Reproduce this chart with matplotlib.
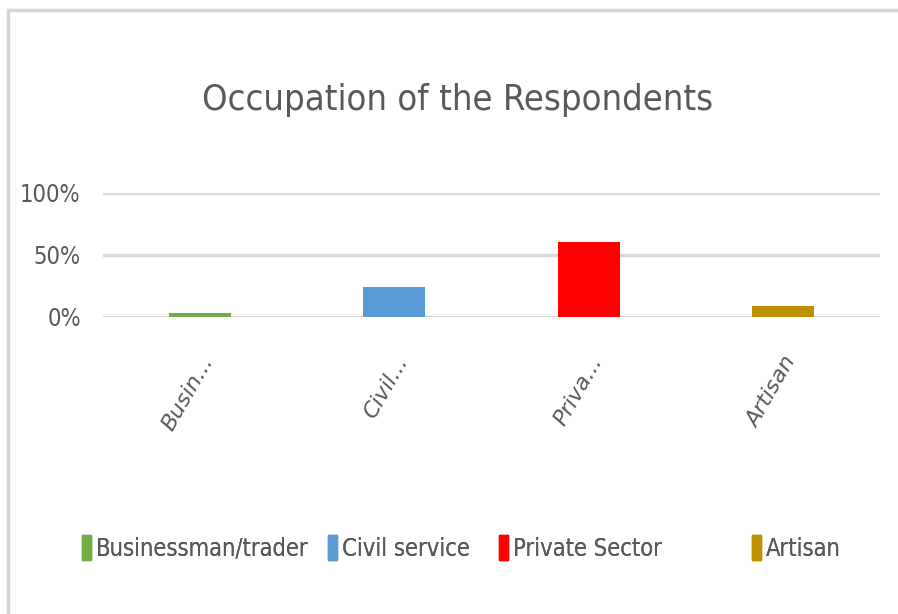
import matplotlib
matplotlib.use('Agg')
import matplotlib.pyplot as plt
from matplotlib.patches import Rectangle, Patch
from matplotlib.ticker import PercentFormatter

# data
categories = ['Businessman/trader', 'Civil service', 'Private Sector', 'Artisan']
tick_labels = ['Busin...', 'Civil...', 'Priva...', 'Artisan']
values = [0.03, 0.24, 0.60, 0.09]
colors = ['#70ad47', '#5b9bd5', '#ff0000', '#bf9000']

plt.rcParams['font.family'] = ['DejaVu Sans']
plt.rcParams['font.stretch'] = 'condensed'
txt = '#595959'

fig = plt.figure(figsize=(8.98, 6.14), dpi=100)
# chart frame (light grey, Excel style)
fig.patches.append(Rectangle((8/898, -0.1), 1.2, 1.1 - 10/614, transform=fig.transFigure,
                             fill=False, edgecolor='#d4d4d4', linewidth=2.5))

ax = fig.add_axes([103/898, 1 - 316.7/614, 777/898, 124/614])
x = range(len(categories))
ax.bar(x, values, width=0.32, color=colors, zorder=3)
ax.set_xlim(-0.5, len(categories) - 0.5)
ax.set_ylim(0, 1)
ax.set_yticks([0, 0.5, 1.0])
ax.yaxis.set_major_formatter(PercentFormatter(1.0, decimals=0))
ax.grid(axis='y', color='#d9d9d9', linewidth=2.5, zorder=0)
for s in ax.spines.values():
    s.set_visible(False)
ax.tick_params(axis='y', length=0, labelsize=17, labelcolor=txt, pad=16)
ax.set_xticks(list(x))
ax.set_xticklabels(tick_labels, rotation=60, ha='right', rotation_mode='anchor',
                   fontstyle='oblique', fontstretch='normal', fontsize=16, color=txt)
ax.tick_params(axis='x', length=0, pad=26)

fig.text(0.51, 1 - 100/614, 'Occupation of the Respondents', ha='center', va='center',
         fontsize=26, color=txt)

# legend entries sit at their own x positions, like in the original
leg_x = [82, 328, 499, 752]
for h_x, c, l in zip(leg_x, colors, categories):
    lg = fig.legend(handles=[Patch(color=c, label=l)], loc='center left',
                    bbox_to_anchor=(h_x/898, 1 - 548/614), frameon=False, fontsize=17,
                    labelcolor=txt, handlelength=0.4, handleheight=1.2,
                    handletextpad=0.2, borderpad=0, borderaxespad=0)
    fig.add_artist(lg)

fig.savefig('out.png', dpi=100)
